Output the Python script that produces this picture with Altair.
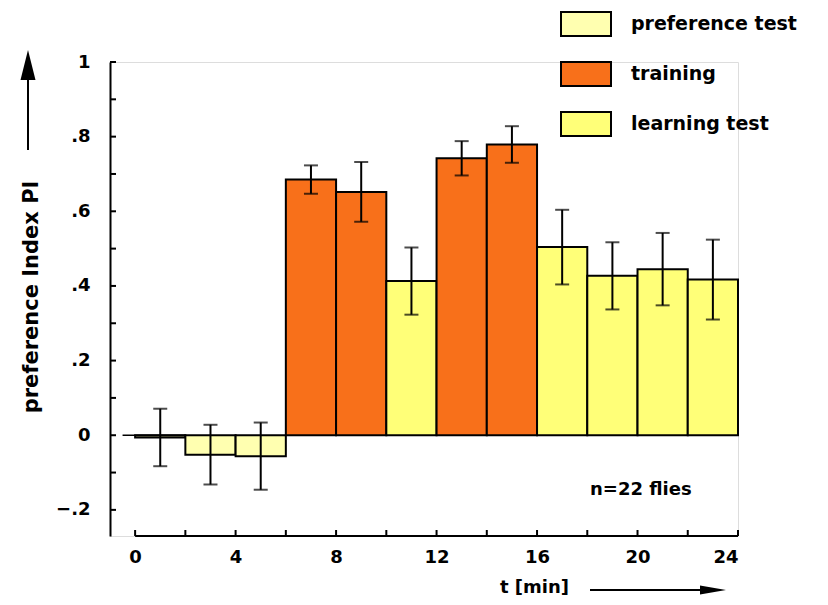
import altair as alt
import pandas as pd

# ---- data ----
t_start = [0, 2, 4, 6, 8, 10, 12, 14, 16, 18, 20, 22]
t_end = [2, 4, 6, 8, 10, 12, 14, 16, 18, 20, 22, 24]
phase = ["preference test", "preference test", "preference test",
         "training", "training", "learning test",
         "training", "training",
         "learning test", "learning test", "learning test", "learning test"]
pi_mean = [-0.006, -0.052, -0.056, 0.685, 0.652, 0.413, 0.742, 0.779, 0.504, 0.427, 0.445, 0.417]
pi_sem = [0.077, 0.080, 0.090, 0.038, 0.080, 0.090, 0.046, 0.049, 0.100, 0.090, 0.097, 0.107]

phase_names = ["preference test", "training", "learning test"]
phase_colors = ["#FFFFB0", "#F8701A", "#FFFF78"]

y_label_values = [-0.2, 0.0, 0.2, 0.4, 0.6, 0.8, 1.0]
y_tick_values = [-0.2, -0.1, 0.0, 0.1, 0.2, 0.3, 0.4, 0.5, 0.6, 0.7, 0.8, 0.9, 1.0]
x_label_values = [0, 4, 8, 12, 16, 20, 24]
x_tick_values = [0, 2, 4, 6, 8, 10, 12, 14, 16, 18, 20, 22, 24]

df = pd.DataFrame({"start": t_start, "end": t_end, "phase": phase,
                   "pi": pi_mean, "sem": pi_sem})
df["base"] = 0.0
df["mid"] = (df["start"] + df["end"]) / 2
df["lo"] = df["pi"] - df["sem"]
df["hi"] = df["pi"] + df["sem"]

W, H = 628, 474
FONT = "DejaVu Sans"

xs = alt.Scale(domain=[-1, 24], nice=False, zero=False)
ys = alt.Scale(domain=[-0.27, 1.0], nice=False, zero=False)

label_expr = ("datum.value == 0 ? '0' : datum.value == 1 ? '1' : "
              "replace(format(datum.value, '.1f'), '0.', '.')")

bars = alt.Chart(df).mark_rect(stroke="black", strokeWidth=2).encode(
    x=alt.X("start:Q", scale=xs,
            axis=alt.Axis(values=x_label_values, domain=False, ticks=False, grid=False,
                          labelFontSize=18, labelFont=FONT, labelFontWeight="bold",
                          labelColor="black", labelPadding=12, title=None)),
    x2="end:Q",
    y=alt.Y("pi:Q", scale=ys,
            axis=alt.Axis(values=y_label_values, labelExpr=label_expr, domain=True,
                          domainColor="black", domainWidth=2, ticks=False, grid=False,
                          labelFontSize=18, labelFont=FONT, labelFontWeight="bold",
                          labelColor="black", labelPadding=20, title=None)),
    y2="base:Q",
    color=alt.Color("phase:N",
                    scale=alt.Scale(domain=phase_names, range=phase_colors),
                    legend=alt.Legend(title=None, orient="none", legendX=450, legendY=-64,
                                      symbolType="M-1,-0.48H1V0.48H-1Z", symbolSize=2500,
                                      symbolStrokeColor="black", symbolStrokeWidth=2,
                                      symbolOpacity=1, labelLimit=400,
                                      labelFontSize=19, labelFont=FONT, labelFontWeight="bold",
                                      labelColor="black", labelOffset=19, rowPadding=8)),
)

err = alt.Chart(df).mark_rule(color="black", strokeWidth=2).encode(
    x="mid:Q", y="lo:Q", y2="hi:Q")
cap_lo = alt.Chart(df).mark_tick(color="black", orient="horizontal", size=14,
                                 thickness=2).encode(x="mid:Q", y="lo:Q")
cap_hi = alt.Chart(df).mark_tick(color="black", orient="horizontal", size=14,
                                 thickness=2).encode(x="mid:Q", y="hi:Q")

zero_df = pd.DataFrame({"x": [-0.5], "x2": [2], "y": [0.0]})
zero_line = alt.Chart(zero_df).mark_rule(color="black", strokeWidth=1.5).encode(
    x="x:Q", x2="x2:Q", y="y:Q")

yt_df = pd.DataFrame({"v": y_tick_values})
y_ticks = alt.Chart(yt_df).mark_rule(color="black", strokeWidth=2).encode(
    y="v:Q", x=alt.value(0), x2=alt.value(6))

xt_df = pd.DataFrame({"v": x_tick_values})
x_ticks = alt.Chart(xt_df).mark_rule(color="black", strokeWidth=2).encode(
    x="v:Q", y=alt.value(H), y2=alt.value(H - 6))

xaxis_df = pd.DataFrame({"a": [x_tick_values[0]], "b": [x_tick_values[-1]]})
x_axis_line = alt.Chart(xaxis_df).mark_rule(color="black", strokeWidth=2).encode(
    x="a:Q", x2="b:Q", y=alt.value(H))

one = pd.DataFrame({"k": [0]})

y_title = alt.Chart(one).mark_text(angle=270, font=FONT, fontWeight="bold", fontSize=21,
                                   color="black", align="center", baseline="middle",
                                   text="preference Index PI").encode(
    x=alt.value(-78), y=alt.value(235))
y_arrow_line = alt.Chart(one).mark_rule(color="black", strokeWidth=2).encode(
    x=alt.value(-82), y=alt.value(88), y2=alt.value(10))
y_arrow_head = alt.Chart(one).mark_point(shape="M0,-1L0.5,1L-0.5,1Z", size=900, filled=True,
                                         color="black", opacity=1).encode(
    x=alt.value(-82), y=alt.value(3))

x_title = alt.Chart(one).mark_text(font=FONT, fontWeight="bold", fontSize=18, color="black",
                                   align="left", baseline="middle", text="t [min]").encode(
    x=alt.value(390), y=alt.value(526))
x_arrow_line = alt.Chart(one).mark_rule(color="black", strokeWidth=2).encode(
    x=alt.value(480), x2=alt.value(600), y=alt.value(528))
x_arrow_head = alt.Chart(one).mark_point(shape="M1,0L-1,-0.35L-1,0.35Z", size=676, filled=True,
                                         color="black", opacity=1).encode(
    x=alt.value(603), y=alt.value(528))

n_text = alt.Chart(one).mark_text(font=FONT, fontWeight="bold", fontSize=18, color="black",
                                  align="left", baseline="middle", text="n=22 flies").encode(
    x=alt.value(480), y=alt.value(428))

chart = alt.layer(
    bars, zero_line, err, cap_lo, cap_hi, y_ticks, x_ticks, x_axis_line,
    y_title, y_arrow_line, y_arrow_head, x_title, x_arrow_line, x_arrow_head, n_text
).properties(
    width=W, height=H,
    autosize=alt.AutoSizeParams(type="none"),
    padding={"left": 102, "top": 54, "right": 82, "bottom": 63},
).configure_view(stroke=None).configure(background="white")

chart.save("out.html", embed_options={"renderer": "svg", "actions": False})
